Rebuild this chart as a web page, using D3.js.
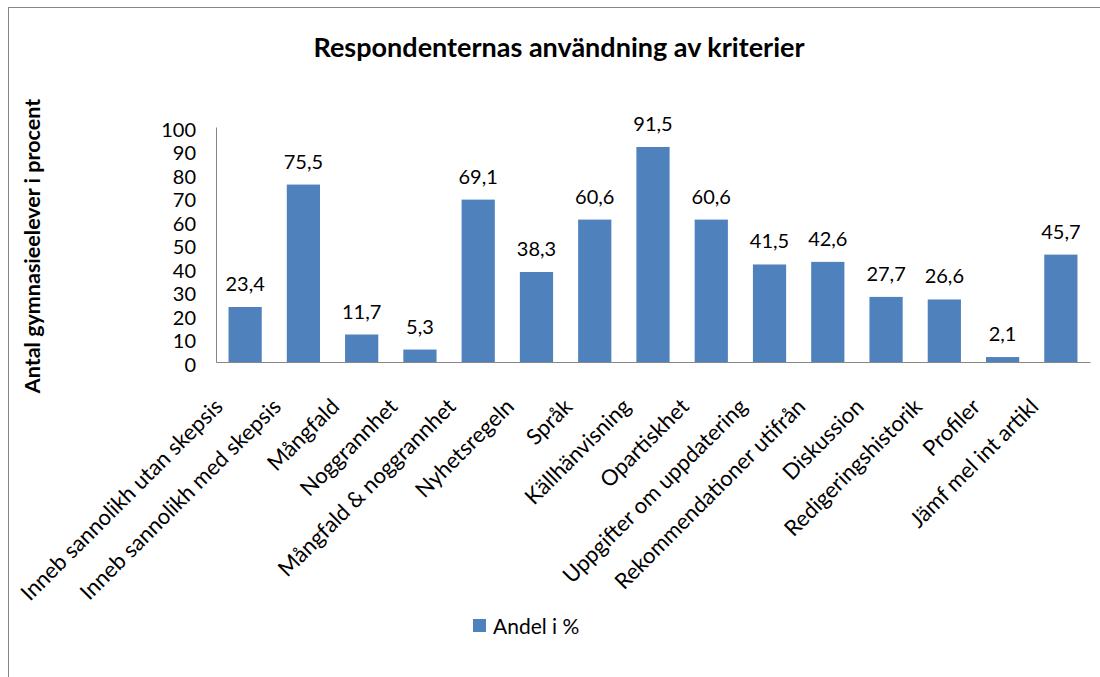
<!DOCTYPE html>
<head>
    <meta charset="utf-8" />
    <script src="https://d3js.org/d3.v7.min.js"></script>
    <style>
        body { margin: 0; background: #fff; }
        text { font-family: Lato, "Liberation Sans", sans-serif; fill: #000; }
    </style>
</head>
<body>
    <script>
        // data
        var categories = ["Inneb sannolikh utan skepsis", "Inneb sannolikh med skepsis", "Mångfald",
            "Noggrannhet", "Mångfald & noggrannhet", "Nyhetsregeln", "Språk", "Källhänvisning",
            "Opartiskhet", "Uppgifter om uppdatering", "Rekommendationer utifrån", "Diskussion",
            "Redigeringshistorik", "Profiler", "Jämf mel int artikl"];
        var values = [23.4, 75.5, 11.7, 5.3, 69.1, 38.3, 60.6, 91.5, 60.6, 41.5, 42.6, 27.7, 26.6, 2.1, 45.7];
        var yTicks = [0, 10, 20, 30, 40, 50, 60, 70, 80, 90, 100];
        var seriesName = "Andel i %";

        var width = 1100, height = 677;
        // plot area ("top" is reserved on window, so use other names)
        var plotL = 216, plotR = 1090, plotT = 127, plotB = 362;
        var barColor = "#4f81bd";
        var lineColor = "#868686";

        var svg = d3.select("body").append("svg")
            .attr("width", width)
            .attr("height", height);

        // outer chart border, runs off the right and bottom
        svg.append("rect")
            .attr("x", 8.5).attr("y", 7.5)
            .attr("width", 1200).attr("height", 800)
            .attr("fill", "none").attr("stroke", lineColor);

        var x = d3.scaleBand().domain(categories).range([plotL, plotR]).paddingInner(0.43).paddingOuter(0.215);
        var y = d3.scaleLinear().domain([0, 100]).range([plotB, plotT]);

        svg.append("text")
            .attr("x", 559).attr("y", 57)
            .attr("text-anchor", "middle")
            .style("font-weight", "bold").style("font-size", "27px")
            .text("Respondenternas användning av kriterier");

        svg.append("text")
            .attr("transform", "translate(40,246) rotate(-90)")
            .attr("text-anchor", "middle")
            .style("font-weight", "bold").style("font-size", "21.5px")
            .text("Antal gymnasieelever i procent");

        // y axis
        var yAxis = svg.append("g")
            .attr("transform", "translate(" + plotL + ",0)")
            .call(d3.axisLeft(y).tickValues(yTicks).tickSize(0).tickPadding(20));
        yAxis.select(".domain").attr("stroke", lineColor);
        yAxis.selectAll("text").style("font-size", "20px").attr("dy", "0.45em");

        // x axis
        var xAxis = svg.append("g")
            .attr("transform", "translate(0," + plotB + ")")
            .call(d3.axisBottom(x).tickSize(0).tickFormat(""));
        xAxis.select(".domain").attr("stroke", lineColor);

        svg.append("g").selectAll("text")
            .data(categories)
            .join("text")
            .attr("transform", function(d) {
                return "translate(" + (x(d) + x.bandwidth() / 2 - 21) + "," + (plotB + 46) + ") rotate(-45)";
            })
            .attr("text-anchor", "end")
            .style("font-size", "22px")
            .text(function(d) { return d; });

        svg.append("g").selectAll("rect")
            .data(values)
            .join("rect")
            .attr("x", function(d, i) { return x(categories[i]); })
            .attr("y", function(d) { return y(d); })
            .attr("width", x.bandwidth())
            .attr("height", function(d) { return plotB - y(d); })
            .attr("fill", barColor);

        svg.append("g").selectAll("text")
            .data(values)
            .join("text")
            .attr("x", function(d, i) { return x(categories[i]) + x.bandwidth() / 2; })
            .attr("y", function(d) { return y(d) - 16; })
            .attr("text-anchor", "middle")
            .style("font-size", "20px")
            .text(function(d) { return String(d).replace(".", ","); });

        // legend
        svg.append("rect")
            .attr("x", 473).attr("y", 619)
            .attr("width", 13).attr("height", 13)
            .attr("fill", barColor);
        svg.append("text")
            .attr("x", 493).attr("y", 634)
            .style("font-size", "21px")
            .text(seriesName);
    </script>
</body>
